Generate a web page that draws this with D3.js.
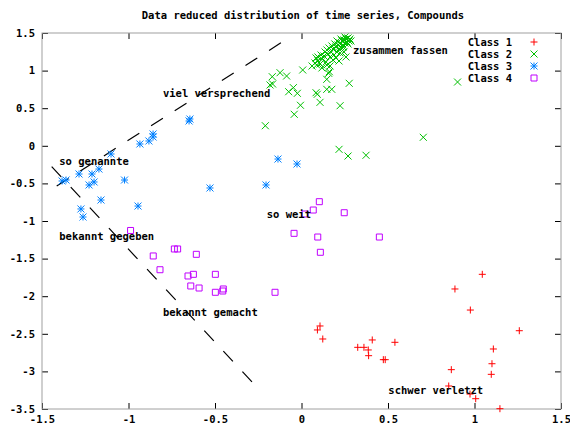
<!DOCTYPE html>
<html>
<head>
<meta charset="utf-8">
<script src="https://cdn.jsdelivr.net/npm/d3@7"></script>
<style>
  body { margin: 0; background: #fff; }
  svg text { font-family: "DejaVu Sans Mono", "Liberation Mono", monospace; font-weight: bold; font-size: 10.5px; fill: #000; }
</style>
</head>
<body>
<svg id="chart"></svg>
<script>
let w = 570;
let h = 426;

let title = "Data reduced distribution of time series, Compounds";
let xTicks = [-1.5, -1, -0.5, 0, 0.5, 1, 1.5];
let yTicks = [1.5, 1, 0.5, 0, -0.5, -1, -1.5, -2, -2.5, -3, -3.5];
let classNames = ["Class 1", "Class 2", "Class 3", "Class 4"];

// Class 1 (+)
let class1 = [
  [1.045, -1.709], [0.887, -1.904], [0.976, -2.184], [1.259, -2.459],
  [0.107, -2.396], [0.092, -2.449], [0.123, -2.569], [0.409, -2.582],
  [0.540, -2.613], [0.325, -2.680], [0.361, -2.680], [0.386, -2.715],
  [0.388, -2.791], [0.473, -2.844], [0.484, -2.844], [1.109, -2.702],
  [1.101, -2.898], [1.097, -3.039], [0.866, -2.977], [0.851, -3.194],
  [0.974, -3.301], [1.007, -3.363], [1.147, -3.496]
];

// Class 2 (x)
let class2 = [
  [-0.006, 0.539], [-0.209, 0.267], [-0.042, 0.419], [-0.169, 0.919],
  [-0.124, 0.972], [-0.086, 0.928], [-0.167, 0.822], [-0.182, 0.809],
  [0.007, 1.008], [-0.074, 0.719], [-0.047, 0.773], [-0.024, 0.698],
  [0.084, 0.706], [0.091, 0.685], [0.107, 0.578], [0.146, 0.751],
  [0.175, 0.751], [0.146, 0.884], [0.161, 0.985], [0.157, 0.964],
  [0.223, 0.533], [0.276, 0.831], [0.217, -0.047], [0.269, -0.136],
  [0.373, -0.126], [0.088, 1.074], [0.902, 0.848], [0.704, 0.113],
  [0.061, 1.061], [0.078, 1.101], [0.095, 1.128], [0.084, 1.168],
  [0.107, 1.088], [0.118, 1.154], [0.130, 1.194], [0.142, 1.114],
  [0.153, 1.221], [0.147, 1.274], [0.165, 1.181], [0.171, 1.247],
  [0.182, 1.287], [0.188, 1.207], [0.199, 1.314], [0.205, 1.247],
  [0.211, 1.340], [0.217, 1.287], [0.223, 1.367], [0.228, 1.314],
  [0.234, 1.394], [0.240, 1.340], [0.246, 1.407], [0.251, 1.367],
  [0.257, 1.420], [0.263, 1.380], [0.269, 1.434], [0.275, 1.394],
  [0.280, 1.420], [0.286, 1.394], [0.193, 1.354], [0.176, 1.327],
  [0.159, 1.301], [0.136, 1.247], [0.113, 1.207], [0.095, 1.181],
  [0.199, 1.168], [0.223, 1.234], [0.246, 1.247], [0.257, 1.181],
  [0.217, 1.128], [0.240, 1.314], [0.165, 1.061], [0.118, 1.035],
  [0.228, 1.420], [0.251, 1.447], [0.269, 1.354], [0.182, 1.141],
  [0.147, 1.074], [0.205, 1.394]
];

// Class 3 (*)
let class3 = [
  [-1.384, -0.468], [-1.361, -0.455], [-1.286, -0.375], [-1.211, -0.375],
  [-1.171, -0.309], [-1.199, -0.481], [-1.228, -0.521], [-1.101, -0.109],
  [-1.159, -0.721], [-1.275, -0.840], [-1.263, -0.947], [-1.023, -0.455],
  [-0.945, -0.801], [-0.934, 0.024], [-0.882, 0.064], [-0.858, 0.117],
  [-0.858, 0.157], [-0.645, 0.356], [-0.650, 0.330], [-0.529, -0.561],
  [-0.205, -0.521], [-0.136, -0.176], [-0.026, -0.242]
];

// Class 4 (square)
let class4 = [
  [0.103, -0.743], [0.068, -0.854], [0.020, -0.907], [0.247, -0.890],
  [-0.043, -1.164], [0.094, -1.213], [0.450, -1.213], [0.109, -1.416],
  [-0.988, -1.126], [-0.857, -1.465], [-0.735, -1.372], [-0.716, -1.372],
  [-0.608, -1.443], [-0.818, -1.648], [-0.656, -1.731], [-0.625, -1.709],
  [-0.498, -1.709], [-0.640, -1.864], [-0.592, -1.891], [-0.498, -1.948],
  [-0.452, -1.904], [-0.455, -1.931], [-0.153, -1.948]
];

// dashed guide lines
let guideLines = [
  [[-1.415, -0.535], [-0.109, 1.384]],
  [[-1.444, -0.278], [-0.286, -3.141]]
];

let labels = [
  {text: "zusammen fassen", x: 0.298, y: 1.274},
  {text: "viel versprechend", x: -0.801, y: 0.698},
  {text: "so genannte", x: -1.400, y: -0.211},
  {text: "bekannt gegeben", x: -1.400, y: -1.209},
  {text: "so weit", x: -0.201, y: -0.911},
  {text: "bekannt gemacht", x: -0.801, y: -2.210},
  {text: "schwer verletzt", x: 0.502, y: -3.247}
];

let colors = ["#ff0000", "#00c000", "#0080ff", "#c000ff"];
let r = 3.5;
let s = 3;

let markers = [
  (x, y) => `M${x - r},${y}h${2 * r}M${x},${y - r}v${2 * r}`,
  (x, y) => `M${x - r},${y - r}l${2 * r},${2 * r}M${x - r},${y + r}l${2 * r},${-2 * r}`,
  (x, y) => `M${x - r},${y}h${2 * r}M${x},${y - r}v${2 * r}M${x - r},${y - r}l${2 * r},${2 * r}M${x - r},${y + r}l${2 * r},${-2 * r}`,
  (x, y) => `M${x - s},${y - s}h${2 * s}v${2 * s}h${-2 * s}Z`
];

let chart = d3.select("#chart").attr("width", w).attr("height", h);

let xScale = d3.scaleLinear().domain([-1.5, 1.5]).range([42, 561]);
let yScale = d3.scaleLinear().domain([-3.5, 1.5]).range([409, 33]);

let fmt = d => String(d);

// axes, ticks point inwards and are mirrored
chart.append("g")
  .attr("transform", `translate(0, ${yScale(-3.5)})`)
  .call(d3.axisBottom(xScale).tickValues(xTicks).tickFormat(fmt).tickSizeInner(-6).tickSizeOuter(0).tickPadding(7))
  .call(g => g.select(".domain").remove());
chart.append("g")
  .attr("transform", `translate(0, ${yScale(1.5)})`)
  .call(d3.axisTop(xScale).tickValues(xTicks).tickFormat("").tickSizeInner(-6).tickSizeOuter(0))
  .call(g => g.select(".domain").remove());
chart.append("g")
  .attr("transform", `translate(${xScale(-1.5)}, 0)`)
  .call(d3.axisLeft(yScale).tickValues(yTicks).tickFormat(fmt).tickSizeInner(-6).tickSizeOuter(0).tickPadding(7))
  .call(g => g.select(".domain").remove());
chart.append("g")
  .attr("transform", `translate(${xScale(1.5)}, 0)`)
  .call(d3.axisRight(yScale).tickValues(yTicks).tickFormat("").tickSizeInner(-6).tickSizeOuter(0))
  .call(g => g.select(".domain").remove());

chart.selectAll(".tick line").attr("stroke", "#000");
chart.selectAll(".tick text").attr("font-size", null).attr("font-family", null).attr("fill", "#000");

chart.append("rect")
  .attr("x", xScale(-1.5)).attr("y", yScale(1.5))
  .attr("width", xScale(1.5) - xScale(-1.5))
  .attr("height", yScale(-3.5) - yScale(1.5))
  .attr("fill", "none").attr("stroke", "#a0a0a0").attr("stroke-width", 1);

// title
chart.append("text")
  .attr("x", 303).attr("y", 19)
  .attr("text-anchor", "middle")
  .text(title);

// dashed lines
chart.append("g").selectAll("path")
  .data(guideLines)
  .join("path")
    .attr("d", d3.line().x(d => xScale(d[0])).y(d => yScale(d[1])))
    .attr("fill", "none")
    .attr("stroke", "#000")
    .attr("stroke-width", 1.2)
    .attr("stroke-dasharray", "14,14");

// points
[class1, class2, class3, class4].forEach((pts, i) => {
  chart.append("g").selectAll("path")
    .data(pts)
    .join("path")
      .attr("d", d => markers[i](xScale(d[0]), yScale(d[1])))
      .attr("fill", "none")
      .attr("stroke", colors[i])
      .attr("stroke-width", 1);
});

// labels
chart.append("g").selectAll("text")
  .data(labels)
  .join("text")
    .attr("x", d => xScale(d.x))
    .attr("y", d => yScale(d.y))
    .attr("dy", "0.35em")
    .text(d => d.text);

// legend
let legend = chart.append("g")
  .selectAll("g")
  .data(classNames)
  .join("g")
    .attr("transform", (d, i) => `translate(0, ${42 + i * 12})`);

legend.append("text")
  .attr("x", 512)
  .attr("dy", "0.35em")
  .attr("text-anchor", "end")
  .text(d => d);

legend.append("path")
  .attr("d", (d, i) => markers[i](534, 0))
  .attr("fill", "none")
  .attr("stroke", (d, i) => colors[i]);
</script>
</body>
</html>
